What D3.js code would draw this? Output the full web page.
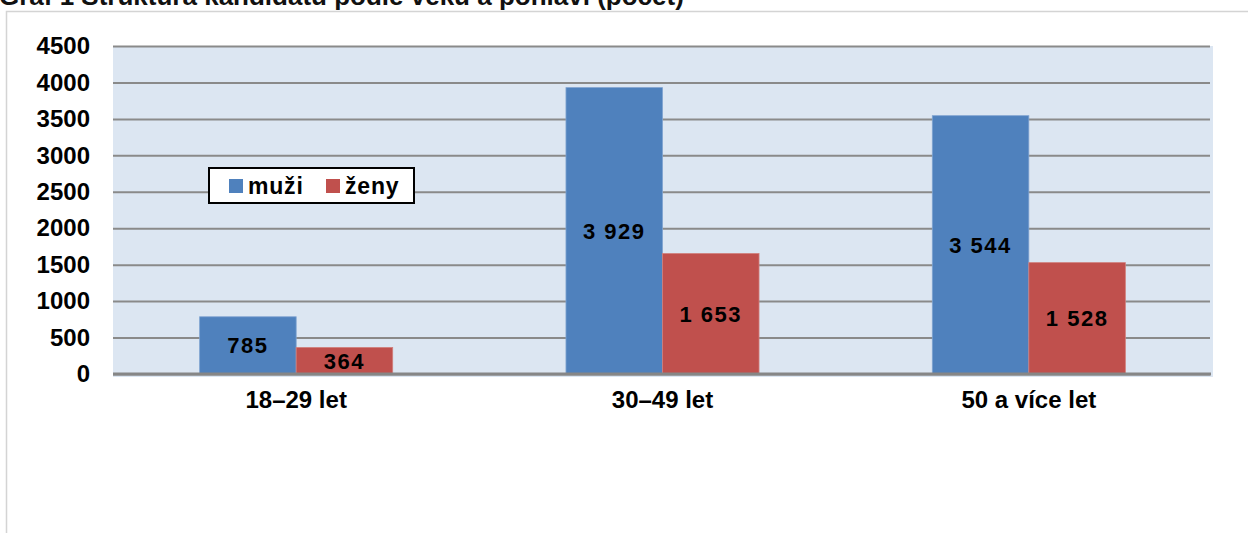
<!DOCTYPE html>
<html>
<head>
<meta charset="utf-8">
<script src="https://cdn.jsdelivr.net/npm/d3@7"></script>
<style>
  body { margin: 0; background: #fff; }
  svg { display: block; font-family: "Liberation Sans", Arial, sans-serif; }
</style>
</head>
<body>
<div id="chart"></div>
<script>
const title = "Graf 1 Struktura kandidátů podle věku a pohlaví (počet)";
const categories = ["18–29 let", "30–49 let", "50 a více let"];
const series = ["muži", "ženy"];
const muzi = [785, 3929, 3544];
const zeny = [364, 1653, 1528];
const yTicks = [0, 500, 1000, 1500, 2000, 2500, 3000, 3500, 4000, 4500];

const W = 1248, H = 533;
const margin = { top: 46, right: 36, bottom: 159, left: 113 },
    width = W - margin.left - margin.right,
    height = H - margin.top - margin.bottom;

const colors = { "muži": "#4F81BD", "ženy": "#C0504D" };
const fmt = d3.formatLocale({ decimal: ",", thousands: " ", grouping: [3], currency: ["", " Kč"] }).format(",d");

const rows = categories.map(function (c, i) {
    return { cat: c, values: [{ key: "muži", value: muzi[i] }, { key: "ženy", value: zeny[i] }] };
});

const svg = d3.select("#chart").append("svg")
    .attr("width", W)
    .attr("height", H);

// outer chart frame (only top and left edges are in view)
svg.append("path")
    .attr("d", `M6.5,${H} V11.5 H${W}`)
    .attr("fill", "none")
    .attr("stroke", "#d4d4d4")
    .attr("stroke-width", 1.5);

// title, clipped at the top of the picture as in the source
svg.append("text")
    .attr("x", -1)
    .attr("y", 5)
    .attr("font-size", 26)
    .attr("font-weight", "bold")
    .attr("fill", "#111")
    .text(title);

const g = svg.append("g")
    .attr("transform", `translate(${margin.left},${margin.top})`);

const x0 = d3.scaleBand().domain(categories).range([0, width]).padding(0);
const x1 = d3.scaleBand().domain(series)
    .range([x0.bandwidth() * 0.2365, x0.bandwidth() * 0.7635]).padding(0);
const y = d3.scaleLinear().domain([0, 4500]).range([height, 0]);

// plot area background
g.append("rect")
    .attr("x", 0)
    .attr("y", 0)
    .attr("width", width + 1)
    .attr("height", height + 3)
    .attr("fill", "#DCE6F2");

// gridlines + y labels
const yAxis = g.append("g")
    .call(d3.axisLeft(y).tickValues(yTicks).tickSize(-width + 2).tickPadding(23).tickFormat(d3.format("d")));
yAxis.select(".domain").remove();
yAxis.selectAll(".tick line")
    .attr("stroke", "#8a8a8a")
    .attr("stroke-width", 2);
yAxis.selectAll(".tick text")
    .attr("font-size", 24)
    .attr("font-weight", "bold")
    .attr("fill", "#000")
    .attr("font-family", "Liberation Sans, Arial, sans-serif");

// bars
const groups = g.selectAll(".grp")
    .data(rows)
    .enter().append("g")
    .attr("class", "grp")
    .attr("transform", function (d) { return `translate(${x0(d.cat)},0)`; });

groups.selectAll("rect")
    .data(function (d) { return d.values; })
    .enter().append("rect")
    .attr("x", function (d) { return x1(d.key); })
    .attr("y", function (d) { return y(d.value); })
    .attr("width", x1.bandwidth())
    .attr("height", function (d) { return height - y(d.value); })
    .attr("fill", function (d) { return colors[d.key]; })
    .attr("stroke", function (d) { return d.key === "muži" ? "#7fa3d0" : "#d07f7c"; })
    .attr("stroke-width", 0.8);

groups.selectAll(".lbl")
    .data(function (d) { return d.values; })
    .enter().append("text")
    .attr("class", "lbl")
    .attr("x", function (d) { return x1(d.key) + x1.bandwidth() / 2; })
    .attr("y", function (d) { return (y(d.value) + height) / 2; })
    .attr("dy", "0.36em")
    .attr("text-anchor", "middle")
    .attr("font-size", 22)
    .attr("font-weight", "bold")
    .attr("letter-spacing", 1.5)
    .attr("fill", "#000")
    .text(function (d) { return fmt(d.value); });

// x axis baseline and labels
const xAxis = g.append("g")
    .attr("transform", `translate(0,${height})`)
    .call(d3.axisBottom(x0).tickSize(0).tickPadding(17));
xAxis.select(".domain")
    .attr("stroke", "#868686")
    .attr("stroke-width", 3)
    .attr("d", `M0,0 H${width - 1}`);
xAxis.selectAll(".tick text")
    .attr("font-size", 24)
    .attr("font-weight", "bold")
    .attr("fill", "#000")
    .attr("font-family", "Liberation Sans, Arial, sans-serif");

// legend
const legend = svg.append("g").attr("transform", "translate(209,168)");
legend.append("rect")
    .attr("width", 205)
    .attr("height", 35)
    .attr("fill", "#fff")
    .attr("stroke", "#000")
    .attr("stroke-width", 2);
const legendX = [20, 117];
series.forEach(function (s, i) {
    legend.append("rect")
        .attr("x", legendX[i])
        .attr("y", 11)
        .attr("width", 14)
        .attr("height", 14)
        .attr("fill", colors[s]);
    legend.append("text")
        .attr("x", legendX[i] + 19)
        .attr("y", 18)
        .attr("dy", "0.36em")
        .attr("font-size", 23)
        .attr("font-weight", "bold")
        .attr("letter-spacing", 0.8)
        .attr("fill", "#000")
        .text(s);
});
</script>
</body>
</html>
